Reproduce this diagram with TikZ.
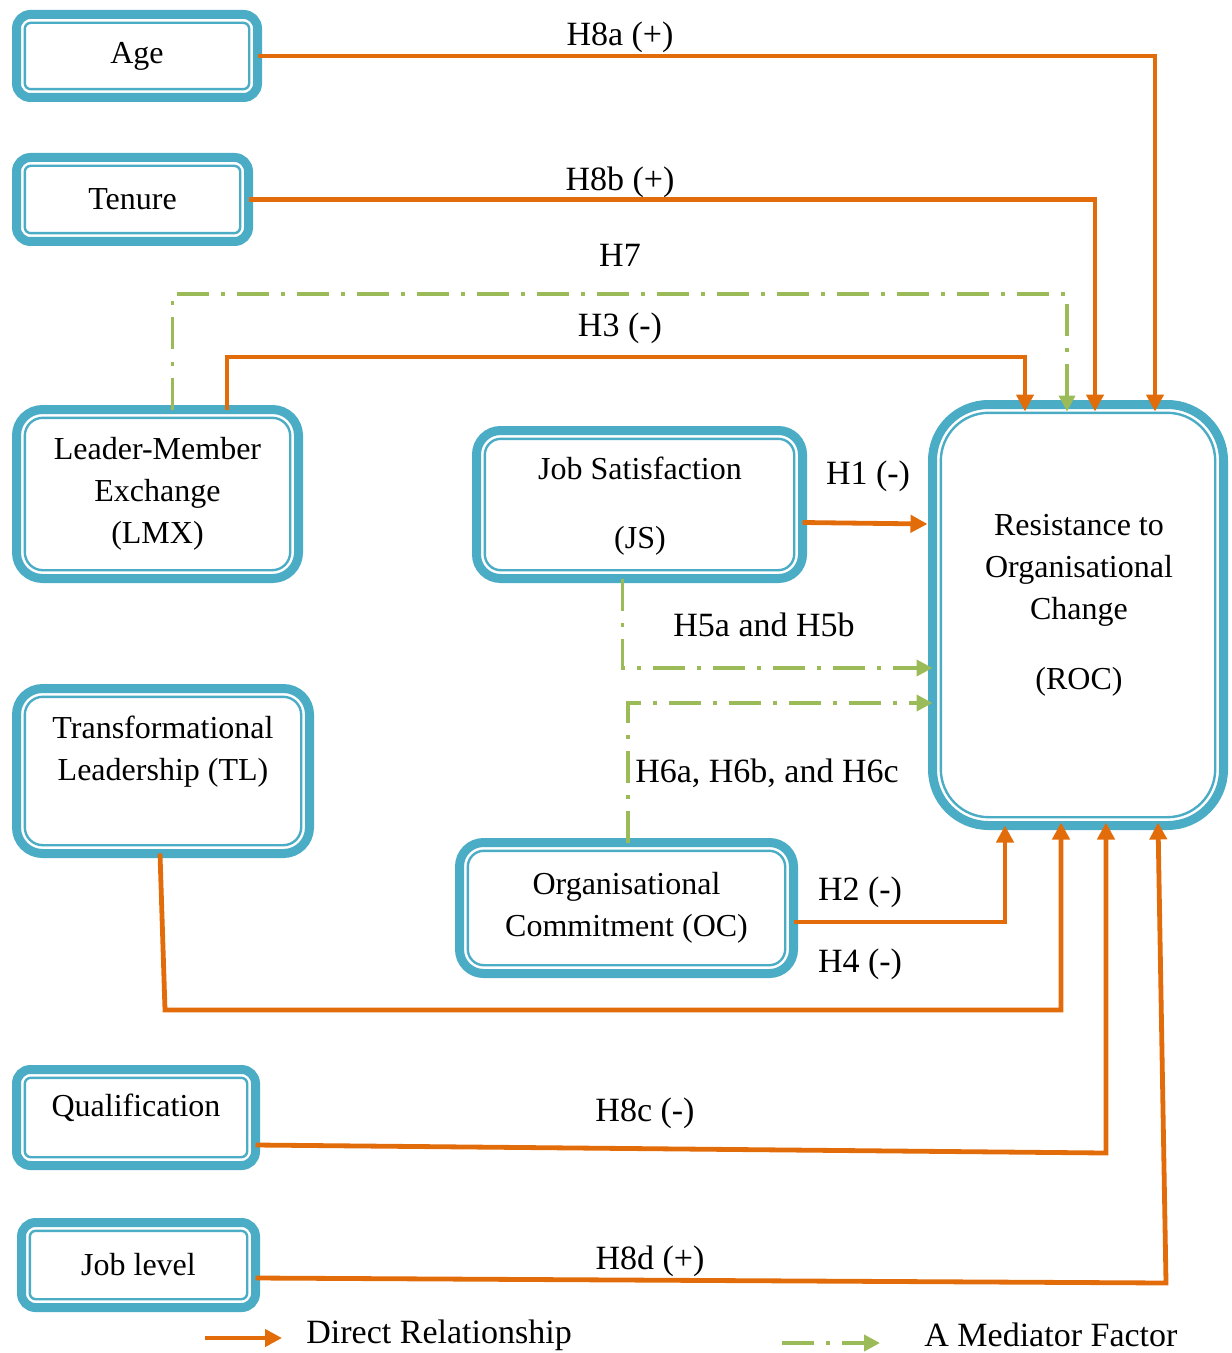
\documentclass[tikz,border=0pt]{standalone}
\usepackage{fontspec}
\setmainfont{Liberation Serif}
\usetikzlibrary{arrows.meta,calc}
\definecolor{frameblue}{HTML}{4BACC6}
\definecolor{directorange}{HTML}{E36C0A}
\definecolor{mediatorgreen}{HTML}{9BBB59}
\tikzset{
  boxfont/.style={font=\fontsize{16}{21}\selectfont},
  labelfont/.style={font=\fontsize{17}{20}\selectfont},
  varbox/.style={draw=frameblue, line width=4.5pt, fill=white, rounded corners=#1,
    align=center, inner sep=0pt, outer sep=0pt, boxfont},
  varbox/.default=7pt,
  boxsize/.style 2 args={minimum width=#1*0.5pt, minimum height=#2*0.5pt},
  innerline/.style={draw=frameblue, line width=1.2pt},
  direct/.style={draw=directorange, line width=2.4pt,
    -{Triangle[length=8.5pt,width=8.5pt]}},
  mediator/.style={draw=mediatorgreen, line width=1.9pt,
    dash pattern=on 16pt off 6pt on 2pt off 6pt,
    -{Triangle[length=8pt,width=8pt]}},
  hlabel/.style={labelfont, inner sep=0pt},
  boxtext/.style={boxfont, inner sep=0pt, align=center},
}
% thin second frame drawn just inside a box's thick border
\newcommand\innerframe[2]{%
  \draw[innerline, rounded corners=#2]
    ($(#1.north west)+(8.3,8.3)$) rectangle ($(#1.south east)+(-8.3,-8.3)$);}

\begin{document}
\begin{tikzpicture}[x=0.5pt, y=-0.5pt]
\useasboundingbox (0,0) rectangle (1231,1353);

% ---- variable boxes ----
\node[varbox, boxsize={241}{83}] (age) at (137,56) {Age};
\innerframe{age}{3pt}
\node[varbox, boxsize={232}{84}] (tenure) at (132.5,199.5) {Tenure};
\innerframe{tenure}{3pt}
\node[varbox=13pt, boxsize={282}{169}] (lmx) at (157.5,494)
  {Leader-Member\\Exchange\\(LMX)};
\innerframe{lmx}{9pt}
\node[varbox=13pt, boxsize={293}{165}] (tl) at (163,771) {};
\innerframe{tl}{9pt}
\node[boxtext] (tltext) at (163,752) {Transformational\\Leadership (TL)};
\node[varbox=12pt, boxsize={326}{148}] (js) at (639.5,504.5) {};
\innerframe{js}{8pt}
\node[boxtext] (jstext) at (640,506) {Job Satisfaction\\[13.5pt](JS)};
\node[varbox=12pt, boxsize={334}{131}] (oc) at (626.5,908)
  {Organisational\\Commitment (OC)};
\innerframe{oc}{8pt}
\node[varbox=28pt, boxsize={291}{421}] (roc) at (1078,615) {};
\innerframe{roc}{24pt}
\node[boxtext] (roctext) at (1079,605)
  {Resistance to\\Organisational\\Change\\[14pt](ROC)};
\node[varbox, boxsize={239}{96}] (qual) at (136,1117.5) {};
\innerframe{qual}{3pt}
\node[boxtext] (qualtext) at (136,1108) {Qualification};
\node[varbox, boxsize={234}{85}] (joblevel) at (138.5,1265) {Job level};
\innerframe{joblevel}{3pt}

% ---- direct relationships ----
\draw[direct] (age.east) -| ($(roc.north)+(77,7)$);
\draw[direct] (tenure.east) -| ($(roc.north)+(17,7)$);
\draw[direct] ($(lmx.north)+(69.5,0)$) |- (600,357) -| ($(roc.north)+(-53,7)$);
\draw[direct] ($(js.east)+(0,18)$) -- ($(roc.west)+(-5,-91)$);
\draw[direct] ($(oc.east)+(0,14)$) -| ($(roc.south)+(-73,0)$);
\draw[direct] ($(tl.south)+(-3,0)$) -- (165,1010) -| ($(roc.south)+(-17,-3)$);
\draw[direct] ($(qual.east)+(0,27.5)$) -- (1106,1153) -- ($(roc.south)+(28,-3)$);
\draw[direct] ($(joblevel.east)+(0,13)$) -- (1166,1283) -- ($(roc.south)+(80,-3)$);

% ---- mediated paths ----
\draw[mediator] ($(lmx.north)+(15,0)$) |- (600,294) -| ($(roc.north)+(-11,7)$);
\draw[mediator] ($(js.south)+(-17,0)$) |- ($(roc.west)+(0,53)$);
\draw[mediator] ($(oc.north)+(1.5,0)$) |- ($(roc.west)+(0,88)$);

% ---- hypothesis labels ----
\node[hlabel] (h8a) at (620,37) {H8a (+)};
\node[hlabel] (h8b) at (620,182) {H8b (+)};
\node[hlabel] (h7) at (620,255) {H7};
\node[hlabel] (h3) at (620,328) {H3 (-)};
\node[hlabel] (h1) at (868,476) {H1 (-)};
\node[hlabel] (h5) at (764,625) {H5a and H5b};
\node[hlabel] (h6) at (767,773) {H6a, H6b, and H6c};
\node[hlabel] (h2) at (860,892) {H2 (-)};
\node[hlabel] (h4) at (860,964) {H4 (-)};
\node[hlabel] (h8c) at (645,1113) {H8c (-)};
\node[hlabel] (h8d) at (650,1261) {H8d (+)};

% ---- legend ----
\coordinate (lgdA) at (205,1338);
\coordinate (lgdB) at (282,1338);
\draw[direct] (lgdA) -- (lgdB);
\node[hlabel, anchor=west] (lgdDirect) at (306,1335) {Direct Relationship};
\coordinate (lgdC) at (782,1343);
\coordinate (lgdD) at (880,1343);
\draw[mediator] (lgdC) -- (lgdD);
\node[hlabel, anchor=west] (lgdMed) at (924,1335) {A Mediator Factor};
\end{tikzpicture}
\end{document}
